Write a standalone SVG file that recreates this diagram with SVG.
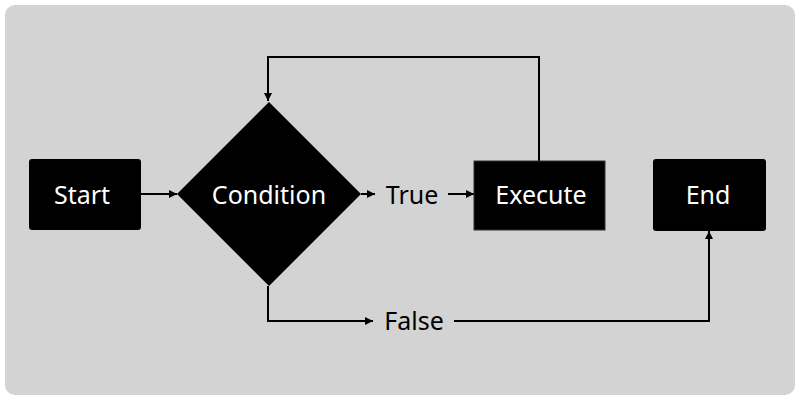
<svg xmlns="http://www.w3.org/2000/svg" width="800" height="400" viewBox="0 0 800 400">
<defs>
<marker id="arr" viewBox="0 0 10 10" refX="10" refY="5" markerWidth="8" markerHeight="8" markerUnits="userSpaceOnUse" orient="auto">
<path d="M0,0 L10,5 L0,10 z" fill="#000"/>
</marker>
<style>
.lbl{font-family:"Noto Sans","Open Sans","DejaVu Sans",sans-serif;font-size:25px;text-anchor:middle}
.w{fill:#fff}
.k{fill:#000}
.c{fill:none;stroke:#000;stroke-width:2}
</style>
</defs>
<rect x="5" y="5" width="790" height="390" rx="10" fill="#d3d3d3"/>
<g id="connectors">
<path class="c" d="M141,194 H177" marker-end="url(#arr)"/>
<path class="c" d="M361,194 H375" marker-end="url(#arr)"/>
<path class="c" d="M448,194 H474" marker-end="url(#arr)"/>
<path class="c" d="M539,161 V57 H268 V101" marker-end="url(#arr)"/>
<path class="c" d="M268,286 V321 H373" marker-end="url(#arr)"/>
<path class="c" d="M454,321 H709 V231" marker-end="url(#arr)"/>
<text class="lbl k" x="412" y="204">True</text>
<text class="lbl k" x="414" y="330">False</text>
</g>
<g id="start">
<rect x="29" y="159" width="112" height="71" rx="3" fill="#000"/>
<text class="lbl w" x="82" y="204">Start</text>
</g>
<g id="condition">
<path d="M269,102 L361,194 L269,286 L177,194 z" fill="#000"/>
<text class="lbl w" x="269" y="204">Condition</text>
</g>
<g id="execute">
<rect x="474" y="161" width="131" height="69" fill="#000" stroke="#333" stroke-width="1"/>
<text class="lbl w" x="541" y="204">Execute</text>
</g>
<g id="end">
<rect x="653" y="159" width="113" height="72" rx="3" fill="#000"/>
<text class="lbl w" x="708" y="204">End</text>
</g>
</svg>
